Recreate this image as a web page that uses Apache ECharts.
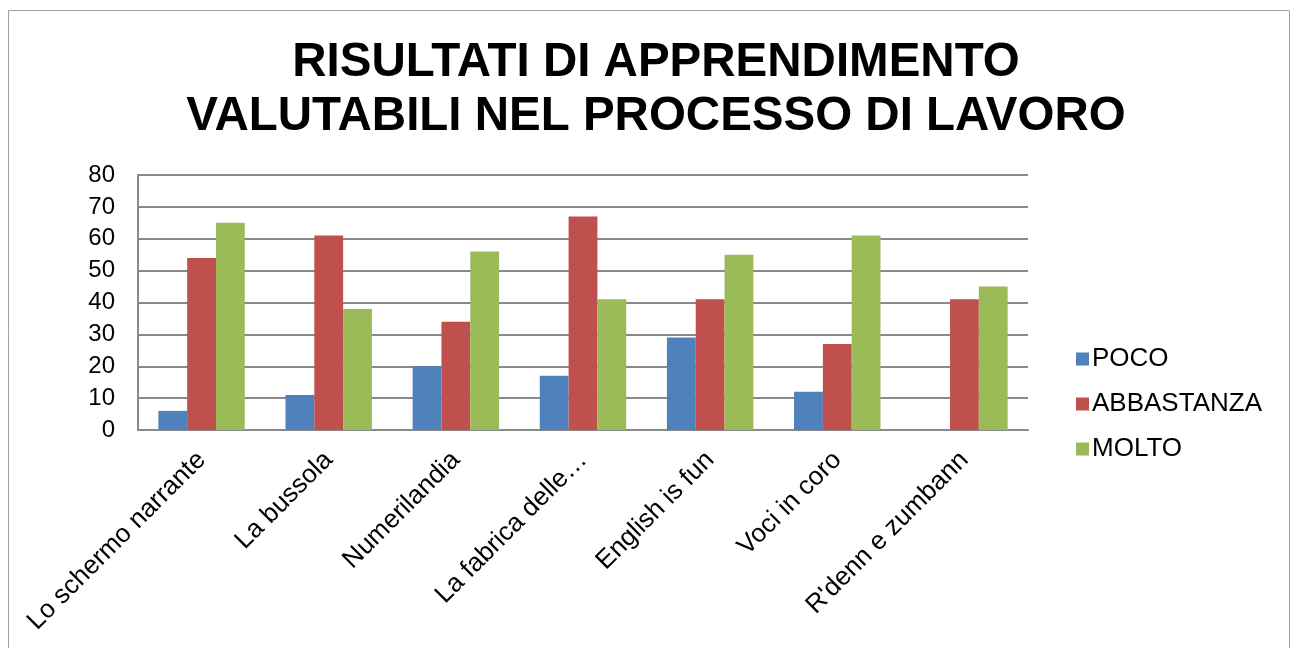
<!DOCTYPE html>
<html>
<head>
<meta charset="utf-8">
<script src="https://cdn.jsdelivr.net/npm/echarts@6/dist/echarts.min.js"></script>
<style>
html, body { margin: 0; padding: 0; background: #fff; }
#main { width: 1296px; height: 648px; }
</style>
</head>
<body>
<div id="main"></div>
<script>
// dati
var categorie = ['Lo schermo narrante', 'La bussola', 'Numerilandia', 'La fabrica delle…', 'English is fun', 'Voci in coro', "R'denn e zumbann"];
var poco = [6, 11, 20, 17, 29, 12, 0];
var abbastanza = [54, 61, 34, 67, 41, 27, 41];
var molto = [65, 38, 56, 41, 55, 61, 45];
var tickY = [0, 10, 20, 30, 40, 50, 60, 70, 80];

var myChart = echarts.init(document.getElementById('main'));

var option = {
    backgroundColor: '#fff',
    textStyle: { fontFamily: 'Liberation Sans, Arial, sans-serif' },
    title: {
        text: 'RISULTATI DI APPRENDIMENTO\nVALUTABILI NEL PROCESSO DI LAVORO',
        left: 651,
        top: 31,
        textAlign: 'center',
        textStyle: {
            fontSize: 47.5,
            fontWeight: 'bold',
            color: '#000',
            lineHeight: 54,
            fontFamily: 'Liberation Sans, Arial, sans-serif'
        }
    },
    graphic: [{
        type: 'rect',
        shape: { x: 8.5, y: 10.5, width: 1281, height: 650 },
        style: { fill: null, stroke: '#a0a0a0', lineWidth: 1 },
        silent: true
    }],
    legend: {
        orient: 'vertical',
        left: 1071,
        top: 341,
        itemWidth: 13,
        itemHeight: 13,
        itemGap: 19,
        icon: 'rect',
        textStyle: { fontSize: 26, color: '#000', padding: [0, 0, 0, -2] },
        data: ['POCO', 'ABBASTANZA', 'MOLTO']
    },
    grid: {
        left: 138,
        right: 268,
        top: 175,
        bottom: 218,
        containLabel: false
    },
    xAxis: {
        type: 'category',
        data: categorie,
        axisLine: { lineStyle: { color: '#898989', width: 2 } },
        axisTick: { show: false },
        axisLabel: {
            rotate: 45,
            fontSize: 26,
            color: '#000',
            interval: 0,
            margin: 26
        }
    },
    yAxis: {
        type: 'value',
        min: 0,
        max: 80,
        interval: 10,
        axisLine: { show: true, lineStyle: { color: '#898989', width: 2 } },
        axisTick: { show: false },
        axisLabel: {
            fontSize: 24,
            color: '#000',
            margin: 23,
            formatter: function (v) { return tickY.indexOf(v) >= 0 ? v : ''; }
        },
        splitLine: { lineStyle: { color: '#898989', width: 2 } }
    },
    series: [{
        name: 'POCO',
        type: 'bar',
        data: poco,
        barGap: '0%',
        barCategoryGap: '32%',
        itemStyle: { color: '#4f81bd' }
    }, {
        name: 'ABBASTANZA',
        type: 'bar',
        data: abbastanza,
        itemStyle: { color: '#c0504d' }
    }, {
        name: 'MOLTO',
        type: 'bar',
        data: molto,
        itemStyle: { color: '#9bbb59' }
    }]
};

myChart.setOption(option);
</script>
</body>
</html>
